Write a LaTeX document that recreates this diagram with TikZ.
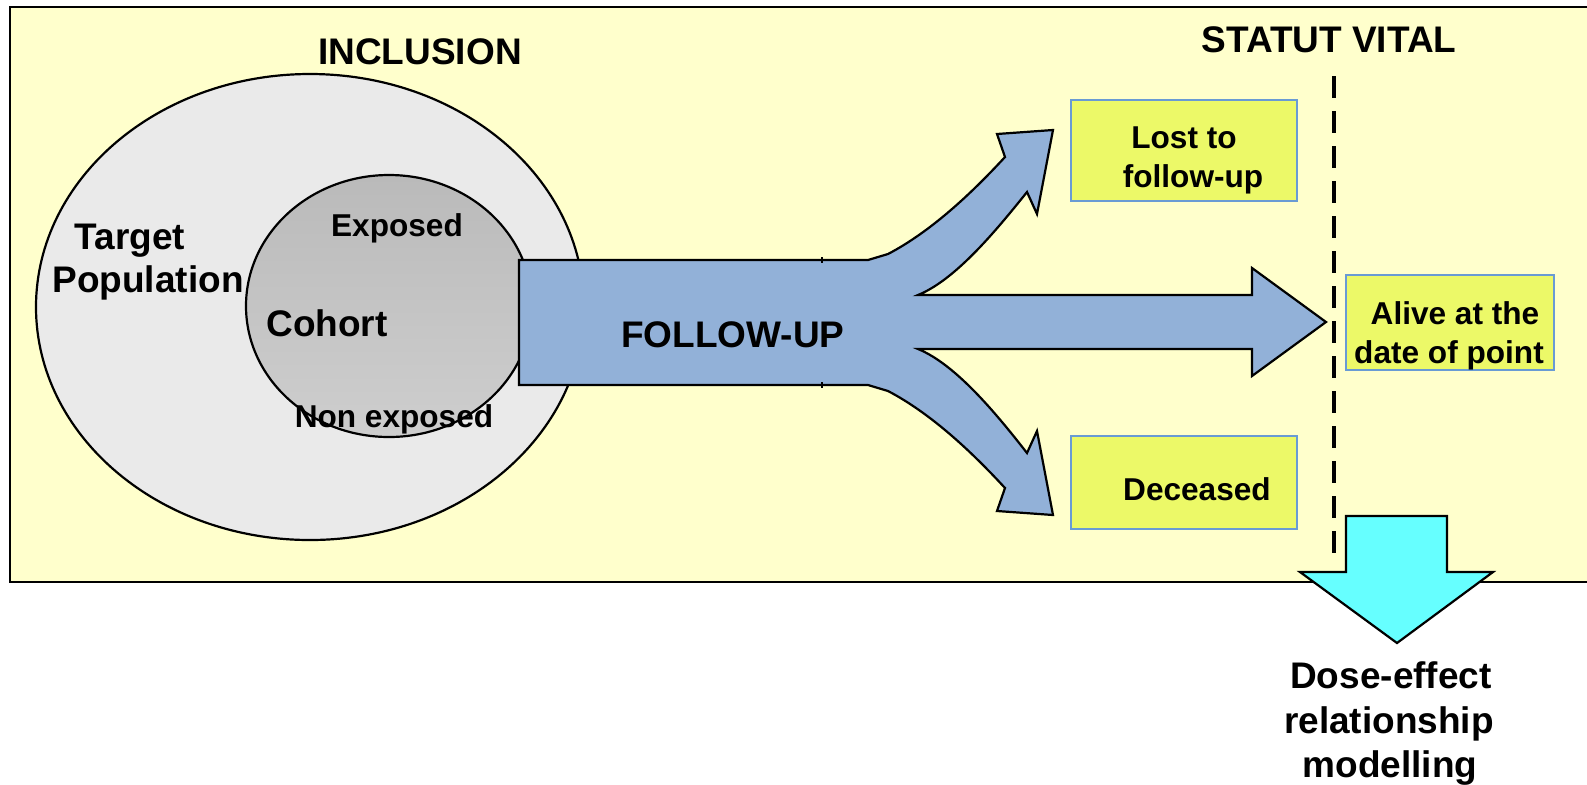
\documentclass[tikz,border=0pt]{standalone}
\usepackage{fontspec}
\setmainfont{Liberation Sans}
\definecolor{bgyellow}{RGB}{255,255,204}
\definecolor{ellgray}{RGB}{234,234,234}
\definecolor{cohtop}{RGB}{186,186,186}
\definecolor{cohbot}{RGB}{206,206,206}
\definecolor{flowblue}{RGB}{146,177,216}
\definecolor{boxyellow}{RGB}{236,249,104}
\definecolor{boxblue}{RGB}{105,155,212}
\definecolor{cyanarrow}{RGB}{102,255,255}
\tikzset{
  bigtxt/.style={font=\fontsize{18.5}{22}\selectfont\bfseries, inner sep=0pt, anchor=base},
  smalltxt/.style={font=\fontsize{15.8}{19}\selectfont\bfseries, inner sep=0pt, anchor=base},
  resbox/.style={draw=boxblue, line width=1.2pt, fill=boxyellow, inner sep=0pt, minimum width=113pt},
  shapeline/.style={draw=black, line width=1.1pt, line join=miter},
  vline/.style={line width=2.3pt, dash pattern=on 11pt off 6.5pt},
}
\begin{document}
\begin{tikzpicture}[x=0.5pt,y=-0.5pt]
\useasboundingbox (0,0) rectangle (1587,784);
\clip (0,0) rectangle (1587,784);
% frame
\draw[fill=bgyellow, line width=1.3pt] (10,7) rectangle (1610,582);
% target population and cohort
\draw[shapeline, fill=ellgray] (310,307) ellipse [x radius=274, y radius=233];
\draw[shapeline, top color=cohtop, bottom color=cohbot] (389,306) ellipse [x radius=143, y radius=131];
% follow-up arrows
\draw[shapeline, fill=flowblue]
  (519,260) -- (868,260) -- (888,254)
  .. controls (930,232) and (970,195) .. (1005,157)
  -- (997,134) -- (1053,130) -- (1037,214) -- (1027,192)
  .. controls (995,232) and (955,280) .. (918,295)
  -- (1252,295) -- (1252,268) -- (1326,322) -- (1252,376) -- (1252,349) -- (918,349)
  .. controls (955,364) and (995,412) .. (1027,453)
  -- (1037,431) -- (1053,515) -- (997,511) -- (1005,488)
  .. controls (970,450) and (930,413) .. (888,391)
  -- (868,385) -- (519,385) -- cycle;
\draw[line width=1pt] (822,257) -- (822,263);
\draw[line width=1pt] (822,382) -- (822,388);
% result boxes
\node[resbox, minimum height=50.5pt] (lost) at (1184,150.5) {};
\node[resbox, minimum width=104pt, minimum height=47.5pt] (alive) at (1450,322.5) {};
\node[resbox, minimum height=46.5pt] (dead) at (1184,482.5) {};
% vital status line
\coordinate (vtop) at (1334,76);
\coordinate (vbot) at (1334,560);
\draw[vline] (vtop) -- (vbot);
% down arrow
\draw[shapeline, fill=cyanarrow] (1346,516) -- (1447,516) -- (1447,572) -- (1493,572)
  -- (1397,643) -- (1300,572) -- (1346,572) -- cycle;
% texts
\node[bigtxt] (incl) at (420,64) {INCLUSION};
\node[bigtxt] (statut) at (1329,52) {STATUT VITAL};
\node[bigtxt] (target1) at (130,249) {Target};
\node[bigtxt] (target2) at (148,292) {Population};
\node[smalltxt] (exp) at (397,236) {Exposed};
\node[bigtxt] (cohort) at (327,336) {Cohort};
\node[smalltxt] (nonexp) at (394,427) {Non exposed};
\node[bigtxt] (fu) at (733,347) {FOLLOW-UP};
\node[smalltxt] (lost1) at (1184,148) {Lost to};
\node[smalltxt] (lost2) at (1193,187) {follow-up};
\node[smalltxt] (alive1) at (1455,324) {Alive at the};
\node[smalltxt] (alive2) at (1449,363) {date of point};
\node[smalltxt] (dead1) at (1197,500) {Deceased};
\node[bigtxt] (dose1) at (1391,688) {Dose-effect};
\node[bigtxt] (dose2) at (1389,733) {relationship};
\node[bigtxt] (dose3) at (1390,777) {modelling};
\end{tikzpicture}
\end{document}
